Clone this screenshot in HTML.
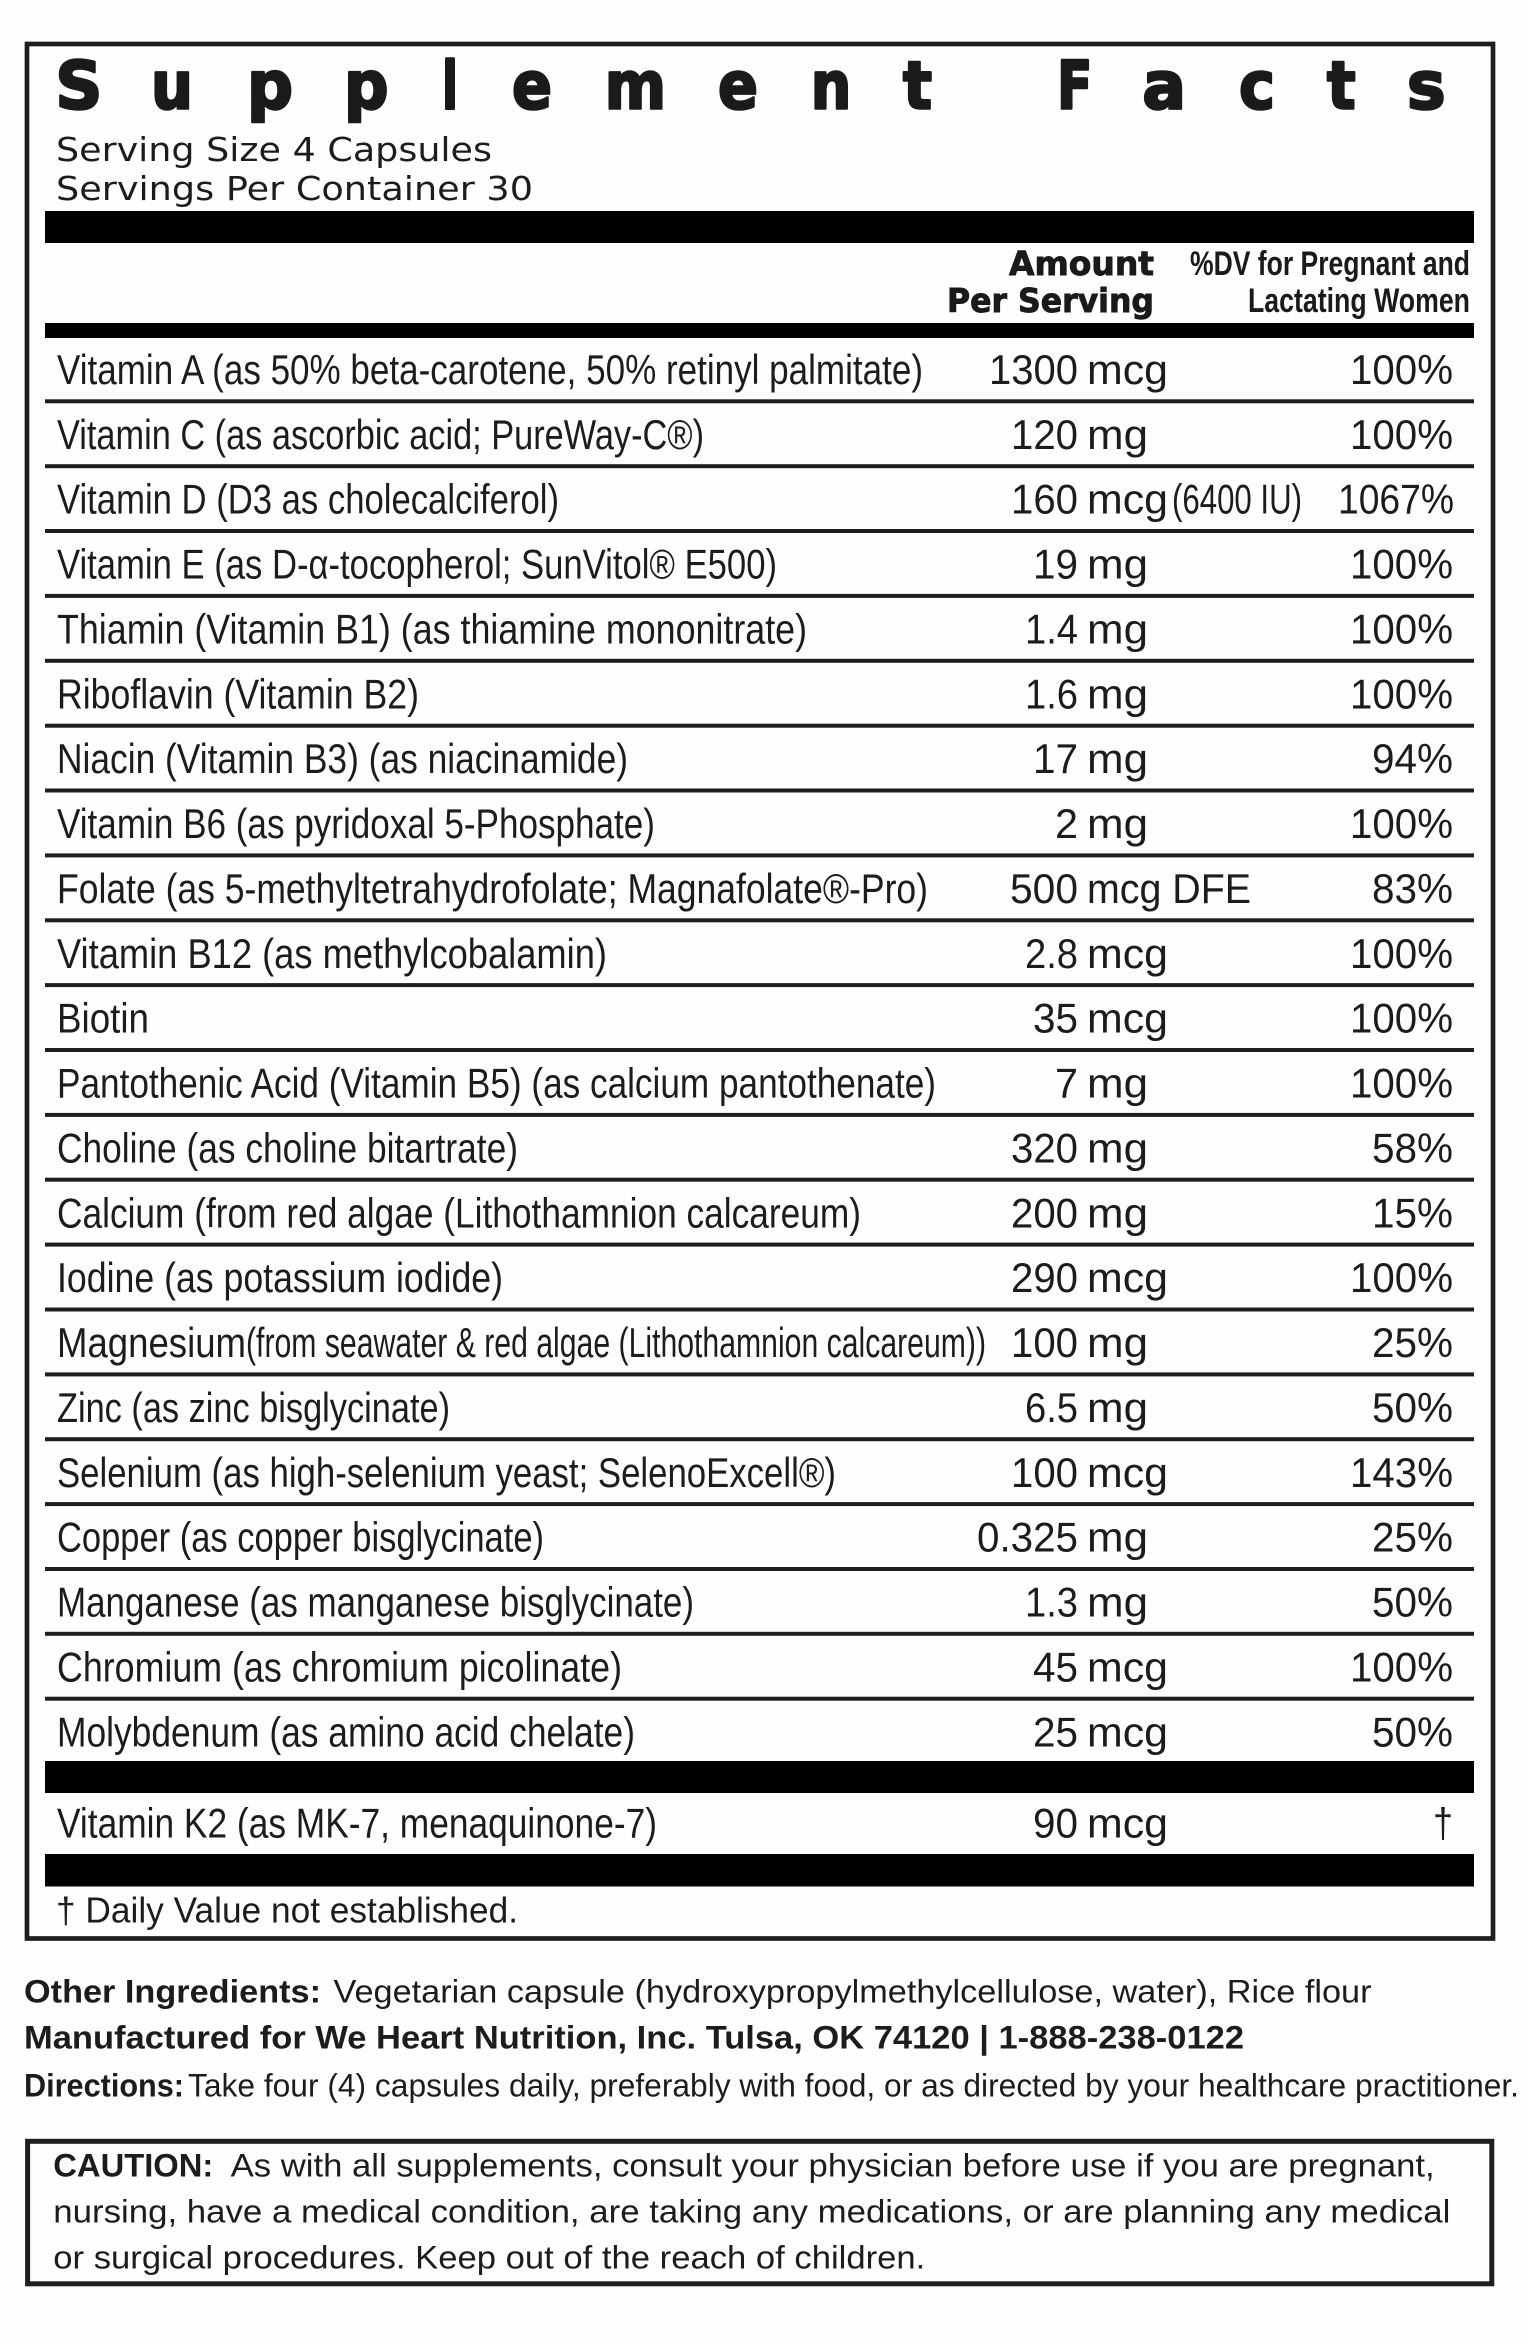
<!DOCTYPE html>
<html>
<head>
<meta charset="utf-8">
<style>
html,body{margin:0;padding:0;background:#fefefe;}
svg{display:block;}
.t{font-family:"Liberation Sans",sans-serif;font-size:42px;fill:#1c1c1c;}
.ti{font-family:"DejaVu Sans","Liberation Sans",sans-serif;font-weight:bold;font-size:66px;fill:#1a1a1a;stroke:#1a1a1a;stroke-width:2.6;stroke-linejoin:round;}
.sv{font-family:"DejaVu Sans","Liberation Sans",sans-serif;font-size:33px;fill:#1c1c1c;}
.hb{font-family:"DejaVu Sans","Liberation Sans",sans-serif;font-weight:bold;font-size:33px;fill:#1a1a1a;stroke:#1a1a1a;stroke-width:0.9;}
.hc{font-family:"Liberation Sans",sans-serif;font-weight:bold;font-size:34px;fill:#1a1a1a;}
.f{font-family:"Liberation Sans",sans-serif;font-size:32px;fill:#1c1c1c;}
.fb{font-family:"Liberation Sans",sans-serif;font-weight:bold;font-size:32px;fill:#1c1c1c;}
.d{font-family:"Liberation Sans",sans-serif;font-size:36px;fill:#1c1c1c;}
</style>
</head>
<body>
<svg width="1529" height="2344" viewBox="0 0 1529 2344" xmlns="http://www.w3.org/2000/svg">
<rect x="0" y="0" width="1529" height="2344" fill="#fefefe"/>
<!-- outer box -->
<rect x="27" y="44" width="1466" height="1894.5" fill="none" stroke="#1e1e1e" stroke-width="4.7"/>

<!-- Title -->
<g class="ti">
<text x="55.4" y="108.5" textLength="47" lengthAdjust="spacingAndGlyphs">S</text>
<text x="151" y="108.5" textLength="42" lengthAdjust="spacingAndGlyphs">u</text>
<text x="247" y="108.5" textLength="46" lengthAdjust="spacingAndGlyphs">p</text>
<text x="344" y="108.5" textLength="44.5" lengthAdjust="spacingAndGlyphs">p</text>
<text x="442" y="108.5" textLength="16" lengthAdjust="spacingAndGlyphs">l</text>
<text x="512" y="108.5" textLength="40" lengthAdjust="spacingAndGlyphs">e</text>
<text x="604.7" y="108.5" textLength="61.3" lengthAdjust="spacingAndGlyphs">m</text>
<text x="718" y="108.5" textLength="40" lengthAdjust="spacingAndGlyphs">e</text>
<text x="810.7" y="108.5" textLength="40.6" lengthAdjust="spacingAndGlyphs">n</text>
<text x="903" y="108.5" textLength="29" lengthAdjust="spacingAndGlyphs">t</text>
<text x="1057" y="108.5" textLength="35.4" lengthAdjust="spacingAndGlyphs">F</text>
<text x="1142.4" y="108.5" textLength="43.6" lengthAdjust="spacingAndGlyphs">a</text>
<text x="1239" y="108.5" textLength="36" lengthAdjust="spacingAndGlyphs">c</text>
<text x="1327" y="108.5" textLength="28.6" lengthAdjust="spacingAndGlyphs">t</text>
<text x="1407" y="108.5" textLength="38.6" lengthAdjust="spacingAndGlyphs">s</text>
</g>

<!-- Serving info -->
<text class="sv" x="56" y="161" textLength="436" lengthAdjust="spacingAndGlyphs">Serving Size 4 Capsules</text>
<text class="sv" x="56" y="200" textLength="477" lengthAdjust="spacingAndGlyphs">Servings Per Container 30</text>

<!-- bars -->
<rect x="45" y="211" width="1429" height="32" fill="#000"/>
<text class="hb" x="1009" y="275" textLength="145" lengthAdjust="spacingAndGlyphs">Amount</text>
<text class="hb" x="947" y="312" textLength="207" lengthAdjust="spacingAndGlyphs">Per Serving</text>
<text class="hc" x="1190" y="275" textLength="280" lengthAdjust="spacingAndGlyphs">%DV for Pregnant and</text>
<text class="hc" x="1248" y="312" textLength="222" lengthAdjust="spacingAndGlyphs">Lactating Women</text>
<rect x="45" y="323" width="1429" height="15" fill="#000"/>

<!-- separators -->
<g fill="#1e1e1e">
<rect x="45" y="399.3" width="1429" height="4"/>
<rect x="45" y="464.2" width="1429" height="4"/>
<rect x="45" y="529.0" width="1429" height="4"/>
<rect x="45" y="593.9" width="1429" height="4"/>
<rect x="45" y="658.8" width="1429" height="4"/>
<rect x="45" y="723.7" width="1429" height="4"/>
<rect x="45" y="788.5" width="1429" height="4"/>
<rect x="45" y="853.4" width="1429" height="4"/>
<rect x="45" y="918.3" width="1429" height="4"/>
<rect x="45" y="983.1" width="1429" height="4"/>
<rect x="45" y="1048.0" width="1429" height="4"/>
<rect x="45" y="1112.9" width="1429" height="4"/>
<rect x="45" y="1177.7" width="1429" height="4"/>
<rect x="45" y="1242.6" width="1429" height="4"/>
<rect x="45" y="1307.5" width="1429" height="4"/>
<rect x="45" y="1372.4" width="1429" height="4"/>
<rect x="45" y="1437.2" width="1429" height="4"/>
<rect x="45" y="1502.1" width="1429" height="4"/>
<rect x="45" y="1567.0" width="1429" height="4"/>
<rect x="45" y="1631.8" width="1429" height="4"/>
<rect x="45" y="1696.7" width="1429" height="4"/>
</g>

<g class="t">
<!-- Row 0 -->
<text x="57" y="384" textLength="866" lengthAdjust="spacingAndGlyphs">Vitamin A (as 50% beta-carotene, 50% retinyl palmitate)</text>
<text x="989" y="384" textLength="89" lengthAdjust="spacingAndGlyphs">1300</text>
<text x="1087" y="384" textLength="81" lengthAdjust="spacingAndGlyphs">mcg</text>
<text x="1350" y="384" textLength="103" lengthAdjust="spacingAndGlyphs">100%</text>
<!-- Row 1 -->
<text x="57" y="448.9" textLength="647" lengthAdjust="spacingAndGlyphs">Vitamin C  (as ascorbic acid; PureWay-C®)</text>
<text x="1011" y="448.9" textLength="67" lengthAdjust="spacingAndGlyphs">120</text>
<text x="1087" y="448.9" textLength="61" lengthAdjust="spacingAndGlyphs">mg</text>
<text x="1350" y="448.9" textLength="103" lengthAdjust="spacingAndGlyphs">100%</text>
<!-- Row 2 -->
<text x="57" y="513.7" textLength="502" lengthAdjust="spacingAndGlyphs">Vitamin D (D3 as cholecalciferol)</text>
<text x="1011" y="513.7" textLength="67" lengthAdjust="spacingAndGlyphs">160</text>
<text x="1087" y="513.7" textLength="81" lengthAdjust="spacingAndGlyphs">mcg</text>
<text x="1172" y="513.7" textLength="130" lengthAdjust="spacingAndGlyphs">(6400 IU)</text>
<text x="1338" y="513.7" textLength="116" lengthAdjust="spacingAndGlyphs">1067%</text>
<!-- Row 3 -->
<text x="57" y="578.6" textLength="720" lengthAdjust="spacingAndGlyphs">Vitamin E (as D-α-tocopherol; SunVitol® E500)</text>
<text x="1033" y="578.6" textLength="45" lengthAdjust="spacingAndGlyphs">19</text>
<text x="1087" y="578.6" textLength="61" lengthAdjust="spacingAndGlyphs">mg</text>
<text x="1350" y="578.6" textLength="103" lengthAdjust="spacingAndGlyphs">100%</text>
<!-- Row 4 -->
<text x="57" y="643.5" textLength="750" lengthAdjust="spacingAndGlyphs">Thiamin (Vitamin B1) (as thiamine mononitrate)</text>
<text x="1025" y="643.5" textLength="53" lengthAdjust="spacingAndGlyphs">1.4</text>
<text x="1087" y="643.5" textLength="61" lengthAdjust="spacingAndGlyphs">mg</text>
<text x="1350" y="643.5" textLength="103" lengthAdjust="spacingAndGlyphs">100%</text>
<!-- Row 5 -->
<text x="57" y="708.4" textLength="362" lengthAdjust="spacingAndGlyphs">Riboflavin (Vitamin B2)</text>
<text x="1025" y="708.4" textLength="53" lengthAdjust="spacingAndGlyphs">1.6</text>
<text x="1087" y="708.4" textLength="61" lengthAdjust="spacingAndGlyphs">mg</text>
<text x="1350" y="708.4" textLength="103" lengthAdjust="spacingAndGlyphs">100%</text>
<!-- Row 6 -->
<text x="57" y="773.2" textLength="571" lengthAdjust="spacingAndGlyphs">Niacin (Vitamin B3) (as niacinamide)</text>
<text x="1033" y="773.2" textLength="45" lengthAdjust="spacingAndGlyphs">17</text>
<text x="1087" y="773.2" textLength="61" lengthAdjust="spacingAndGlyphs">mg</text>
<text x="1372" y="773.2" textLength="81" lengthAdjust="spacingAndGlyphs">94%</text>
<!-- Row 7 -->
<text x="57" y="838.1" textLength="598" lengthAdjust="spacingAndGlyphs">Vitamin B6 (as pyridoxal 5-Phosphate)</text>
<text x="1055" y="838.1" textLength="23" lengthAdjust="spacingAndGlyphs">2</text>
<text x="1087" y="838.1" textLength="61" lengthAdjust="spacingAndGlyphs">mg</text>
<text x="1350" y="838.1" textLength="103" lengthAdjust="spacingAndGlyphs">100%</text>
<!-- Row 8 -->
<text x="57" y="903.0" textLength="871" lengthAdjust="spacingAndGlyphs">Folate  (as 5-methyltetrahydrofolate; Magnafolate®-Pro)</text>
<text x="1010" y="903.0" textLength="68" lengthAdjust="spacingAndGlyphs">500</text>
<text x="1087" y="903.0" textLength="164" lengthAdjust="spacingAndGlyphs">mcg DFE</text>
<text x="1372" y="903.0" textLength="81" lengthAdjust="spacingAndGlyphs">83%</text>
<!-- Row 9 -->
<text x="57" y="967.8" textLength="550" lengthAdjust="spacingAndGlyphs">Vitamin B12  (as methylcobalamin)</text>
<text x="1025" y="967.8" textLength="53" lengthAdjust="spacingAndGlyphs">2.8</text>
<text x="1087" y="967.8" textLength="81" lengthAdjust="spacingAndGlyphs">mcg</text>
<text x="1350" y="967.8" textLength="103" lengthAdjust="spacingAndGlyphs">100%</text>
<!-- Row 10 -->
<text x="57" y="1032.7" textLength="92" lengthAdjust="spacingAndGlyphs">Biotin</text>
<text x="1033" y="1032.7" textLength="45" lengthAdjust="spacingAndGlyphs">35</text>
<text x="1087" y="1032.7" textLength="81" lengthAdjust="spacingAndGlyphs">mcg</text>
<text x="1350" y="1032.7" textLength="103" lengthAdjust="spacingAndGlyphs">100%</text>
<!-- Row 11 -->
<text x="57" y="1097.6" textLength="879" lengthAdjust="spacingAndGlyphs">Pantothenic Acid (Vitamin B5) (as calcium pantothenate)</text>
<text x="1055" y="1097.6" textLength="23" lengthAdjust="spacingAndGlyphs">7</text>
<text x="1087" y="1097.6" textLength="61" lengthAdjust="spacingAndGlyphs">mg</text>
<text x="1350" y="1097.6" textLength="103" lengthAdjust="spacingAndGlyphs">100%</text>
<!-- Row 12 -->
<text x="57" y="1162.4" textLength="461" lengthAdjust="spacingAndGlyphs">Choline (as choline bitartrate)</text>
<text x="1011" y="1162.4" textLength="67" lengthAdjust="spacingAndGlyphs">320</text>
<text x="1087" y="1162.4" textLength="61" lengthAdjust="spacingAndGlyphs">mg</text>
<text x="1372" y="1162.4" textLength="81" lengthAdjust="spacingAndGlyphs">58%</text>
<!-- Row 13 -->
<text x="57" y="1227.3" textLength="804" lengthAdjust="spacingAndGlyphs">Calcium (from red algae (Lithothamnion calcareum)</text>
<text x="1011" y="1227.3" textLength="67" lengthAdjust="spacingAndGlyphs">200</text>
<text x="1087" y="1227.3" textLength="61" lengthAdjust="spacingAndGlyphs">mg</text>
<text x="1372" y="1227.3" textLength="81" lengthAdjust="spacingAndGlyphs">15%</text>
<!-- Row 14 -->
<text x="57" y="1292.2" textLength="446" lengthAdjust="spacingAndGlyphs">Iodine (as potassium iodide)</text>
<text x="1011" y="1292.2" textLength="67" lengthAdjust="spacingAndGlyphs">290</text>
<text x="1087" y="1292.2" textLength="81" lengthAdjust="spacingAndGlyphs">mcg</text>
<text x="1350" y="1292.2" textLength="103" lengthAdjust="spacingAndGlyphs">100%</text>
<!-- Row 15 -->
<text x="57" y="1357.1" textLength="189" lengthAdjust="spacingAndGlyphs">Magnesium</text>
<text x="246" y="1357.1" textLength="740" lengthAdjust="spacingAndGlyphs">(from seawater &amp; red algae (Lithothamnion calcareum))</text>
<text x="1011" y="1357.1" textLength="67" lengthAdjust="spacingAndGlyphs">100</text>
<text x="1087" y="1357.1" textLength="61" lengthAdjust="spacingAndGlyphs">mg</text>
<text x="1372" y="1357.1" textLength="81" lengthAdjust="spacingAndGlyphs">25%</text>
<!-- Row 16 -->
<text x="57" y="1421.9" textLength="393" lengthAdjust="spacingAndGlyphs">Zinc (as zinc bisglycinate)</text>
<text x="1025" y="1421.9" textLength="53" lengthAdjust="spacingAndGlyphs">6.5</text>
<text x="1087" y="1421.9" textLength="61" lengthAdjust="spacingAndGlyphs">mg</text>
<text x="1372" y="1421.9" textLength="81" lengthAdjust="spacingAndGlyphs">50%</text>
<!-- Row 17 -->
<text x="57" y="1486.8" textLength="779" lengthAdjust="spacingAndGlyphs">Selenium (as high-selenium yeast; SelenoExcell®)</text>
<text x="1011" y="1486.8" textLength="67" lengthAdjust="spacingAndGlyphs">100</text>
<text x="1087" y="1486.8" textLength="81" lengthAdjust="spacingAndGlyphs">mcg</text>
<text x="1350" y="1486.8" textLength="103" lengthAdjust="spacingAndGlyphs">143%</text>
<!-- Row 18 -->
<text x="57" y="1551.7" textLength="487" lengthAdjust="spacingAndGlyphs">Copper (as copper bisglycinate)</text>
<text x="977" y="1551.7" textLength="101" lengthAdjust="spacingAndGlyphs">0.325</text>
<text x="1087" y="1551.7" textLength="61" lengthAdjust="spacingAndGlyphs">mg</text>
<text x="1372" y="1551.7" textLength="81" lengthAdjust="spacingAndGlyphs">25%</text>
<!-- Row 19 -->
<text x="57" y="1616.5" textLength="637" lengthAdjust="spacingAndGlyphs">Manganese (as manganese bisglycinate)</text>
<text x="1025" y="1616.5" textLength="53" lengthAdjust="spacingAndGlyphs">1.3</text>
<text x="1087" y="1616.5" textLength="61" lengthAdjust="spacingAndGlyphs">mg</text>
<text x="1372" y="1616.5" textLength="81" lengthAdjust="spacingAndGlyphs">50%</text>
<!-- Row 20 -->
<text x="57" y="1681.4" textLength="565" lengthAdjust="spacingAndGlyphs">Chromium (as chromium picolinate)</text>
<text x="1033" y="1681.4" textLength="45" lengthAdjust="spacingAndGlyphs">45</text>
<text x="1087" y="1681.4" textLength="81" lengthAdjust="spacingAndGlyphs">mcg</text>
<text x="1350" y="1681.4" textLength="103" lengthAdjust="spacingAndGlyphs">100%</text>
<!-- Row 21 -->
<text x="57" y="1746.3" textLength="578" lengthAdjust="spacingAndGlyphs">Molybdenum (as amino acid chelate)</text>
<text x="1033" y="1746.3" textLength="45" lengthAdjust="spacingAndGlyphs">25</text>
<text x="1087" y="1746.3" textLength="81" lengthAdjust="spacingAndGlyphs">mcg</text>
<text x="1372" y="1746.3" textLength="81" lengthAdjust="spacingAndGlyphs">50%</text>
</g>

<rect x="45" y="1761" width="1429" height="32" fill="#000"/>
<g class="t">
<text x="57" y="1837.5" textLength="600" lengthAdjust="spacingAndGlyphs">Vitamin K2 (as MK-7, menaquinone-7)</text>
<text x="1033" y="1837.5" textLength="45" lengthAdjust="spacingAndGlyphs">90</text>
<text x="1087" y="1837.5" textLength="81" lengthAdjust="spacingAndGlyphs">mcg</text>
<text x="1433" y="1837.5" textLength="20" lengthAdjust="spacingAndGlyphs">†</text>
</g>
<rect x="45" y="1854" width="1429" height="32.5" fill="#000"/>

<text class="d" x="56" y="1922.7" textLength="462" lengthAdjust="spacingAndGlyphs">† Daily Value not established.</text>

<!-- footer -->
<text class="fb" x="24" y="2002.7" textLength="297" lengthAdjust="spacingAndGlyphs">Other Ingredients:</text>
<text class="f" x="333.5" y="2002.7" textLength="1038" lengthAdjust="spacingAndGlyphs">Vegetarian capsule (hydroxypropylmethylcellulose, water), Rice flour</text>
<text class="fb" x="24" y="2048.3" textLength="1220" lengthAdjust="spacingAndGlyphs">Manufactured for We Heart Nutrition, Inc. Tulsa, OK 74120 | 1-888-238-0122</text>
<text class="fb" x="24" y="2096.7" textLength="160" lengthAdjust="spacingAndGlyphs">Directions:</text>
<text class="f" x="188" y="2096.7" textLength="1331" lengthAdjust="spacingAndGlyphs">Take four (4) capsules daily, preferably with food, or as directed by your healthcare practitioner.</text>

<!-- caution box -->
<rect x="27.6" y="2141.3" width="1464.2" height="142.5" fill="none" stroke="#1e1e1e" stroke-width="5"/>
<text class="fb" x="53.3" y="2176.7" textLength="160" lengthAdjust="spacingAndGlyphs">CAUTION:</text>
<text class="f" x="230.7" y="2176.7" textLength="1204" lengthAdjust="spacingAndGlyphs">As with all supplements, consult your physician before use if you are pregnant,</text>
<text class="f" x="53.3" y="2222.7" textLength="1397" lengthAdjust="spacingAndGlyphs">nursing, have a medical condition, are taking any medications, or are planning any medical</text>
<text class="f" x="53.3" y="2268.3" textLength="872" lengthAdjust="spacingAndGlyphs">or surgical procedures. Keep out of the reach of children.</text>
</svg>
</body>
</html>
